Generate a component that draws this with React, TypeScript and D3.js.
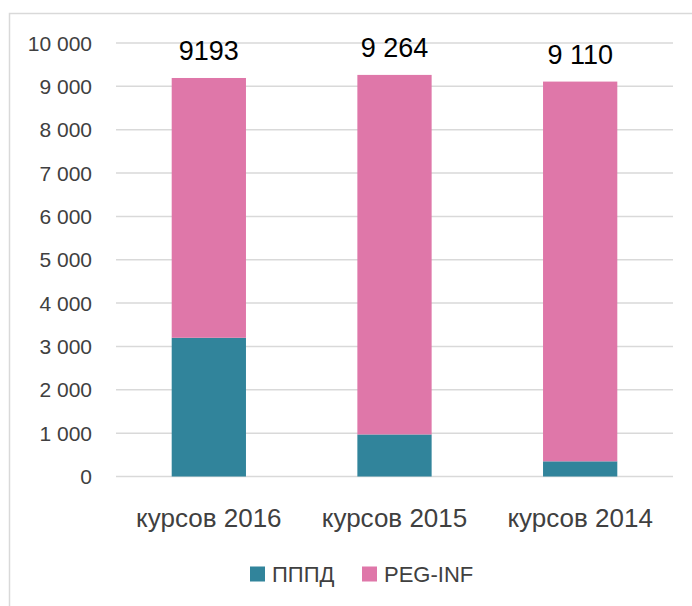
import React, { useEffect, useRef } from 'react';
import * as d3 from 'd3';

// categories and series
const categories = ['курсов 2016', 'курсов 2015', 'курсов 2014'];
const ppfdValues = [3200, 970, 350];
const pegValues = [5993, 8294, 8760];
const totalLabels = ['9193', '9 264', '9 110'];
const seriesNames = ['ПППД', 'PEG-INF'];
const seriesColors = ['#31849B', '#DF77A9'];
const yTicks = [0, 1000, 2000, 3000, 4000, 5000, 6000, 7000, 8000, 9000, 10000];

const App = () => {
  const svgRef = useRef<SVGSVGElement>(null);

  useEffect(() => {
    const width = 692;
    const height = 606;
    const font = '"Liberation Sans", Arial, sans-serif';

    const svg = d3.select(svgRef.current)
      .attr('width', width)
      .attr('height', height)
      .style('background', '#fff');

    svg.selectAll('*').remove();

    // chart frame (only left and top edges visible)
    svg.append('path')
      .attr('d', `M9.5,${height} V13.5 H${width}`)
      .attr('fill', 'none')
      .attr('stroke', '#d9d9d9')
      .attr('stroke-width', 1.5);

    const x = d3.scaleBand()
      .domain(categories)
      .range([116, 673])
      .paddingInner(0.6)
      .paddingOuter(0.3);

    const y = d3.scaleLinear()
      .domain([0, 10000])
      .range([476.5, 43]);

    // gridlines
    svg.append('g')
      .selectAll('line')
      .data(yTicks)
      .enter()
      .append('line')
      .attr('x1', 116)
      .attr('x2', 673)
      .attr('y1', d => y(d))
      .attr('y2', d => y(d))
      .attr('stroke', '#d9d9d9')
      .attr('stroke-width', 1.5);

    // y tick labels
    const fmt = (v: number) => d3.format(',')(v).replace(/,/g, ' ');
    svg.append('g')
      .selectAll('text')
      .data(yTicks)
      .enter()
      .append('text')
      .attr('x', 92)
      .attr('y', d => y(d))
      .attr('dy', '0.36em')
      .attr('text-anchor', 'end')
      .attr('font-family', font)
      .attr('font-size', 21)
      .attr('fill', '#404040')
      .text(d => fmt(d));

    // stacked bars
    const rows = categories.map((c, i) => ({ cat: c, a: ppfdValues[i], b: pegValues[i] }));
    const stack = d3.stack<any>().keys(['a', 'b'])(rows);

    stack.forEach((layer, li) => {
      svg.append('g')
        .selectAll('rect')
        .data(layer)
        .enter()
        .append('rect')
        .attr('x', d => x(d.data.cat) as number)
        .attr('width', x.bandwidth())
        .attr('y', d => y(d[1]))
        .attr('height', d => y(d[0]) - y(d[1]))
        .attr('fill', seriesColors[li]);
    });

    // total labels
    const top = stack[stack.length - 1];
    svg.append('g')
      .selectAll('text')
      .data(top)
      .enter()
      .append('text')
      .attr('x', d => (x(d.data.cat) as number) + x.bandwidth() / 2)
      .attr('y', d => y(d[1]) - 18)
      .attr('text-anchor', 'middle')
      .attr('font-family', font)
      .attr('font-size', 27)
      .attr('fill', '#000')
      .text((d, i) => totalLabels[i]);

    // category labels
    svg.append('g')
      .selectAll('text')
      .data(categories)
      .enter()
      .append('text')
      .attr('x', d => (x(d) as number) + x.bandwidth() / 2)
      .attr('y', 527)
      .attr('text-anchor', 'middle')
      .attr('font-family', font)
      .attr('font-size', 26)
      .attr('fill', '#404040')
      .text(d => d);

    // legend
    const legendX = [250, 362];
    const legend = svg.append('g');
    seriesNames.forEach((name, i) => {
      legend.append('rect')
        .attr('x', legendX[i])
        .attr('y', 566.5)
        .attr('width', 15)
        .attr('height', 15)
        .attr('fill', seriesColors[i]);
      legend.append('text')
        .attr('x', legendX[i] + 22)
        .attr('y', 582)
        .attr('font-family', font)
        .attr('font-size', 22)
        .attr('fill', '#404040')
        .text(name);
    });
  }, []);

  return <svg ref={svgRef} style={{ position: 'absolute', left: 0, top: 0 }}></svg>;
};

export default App;
